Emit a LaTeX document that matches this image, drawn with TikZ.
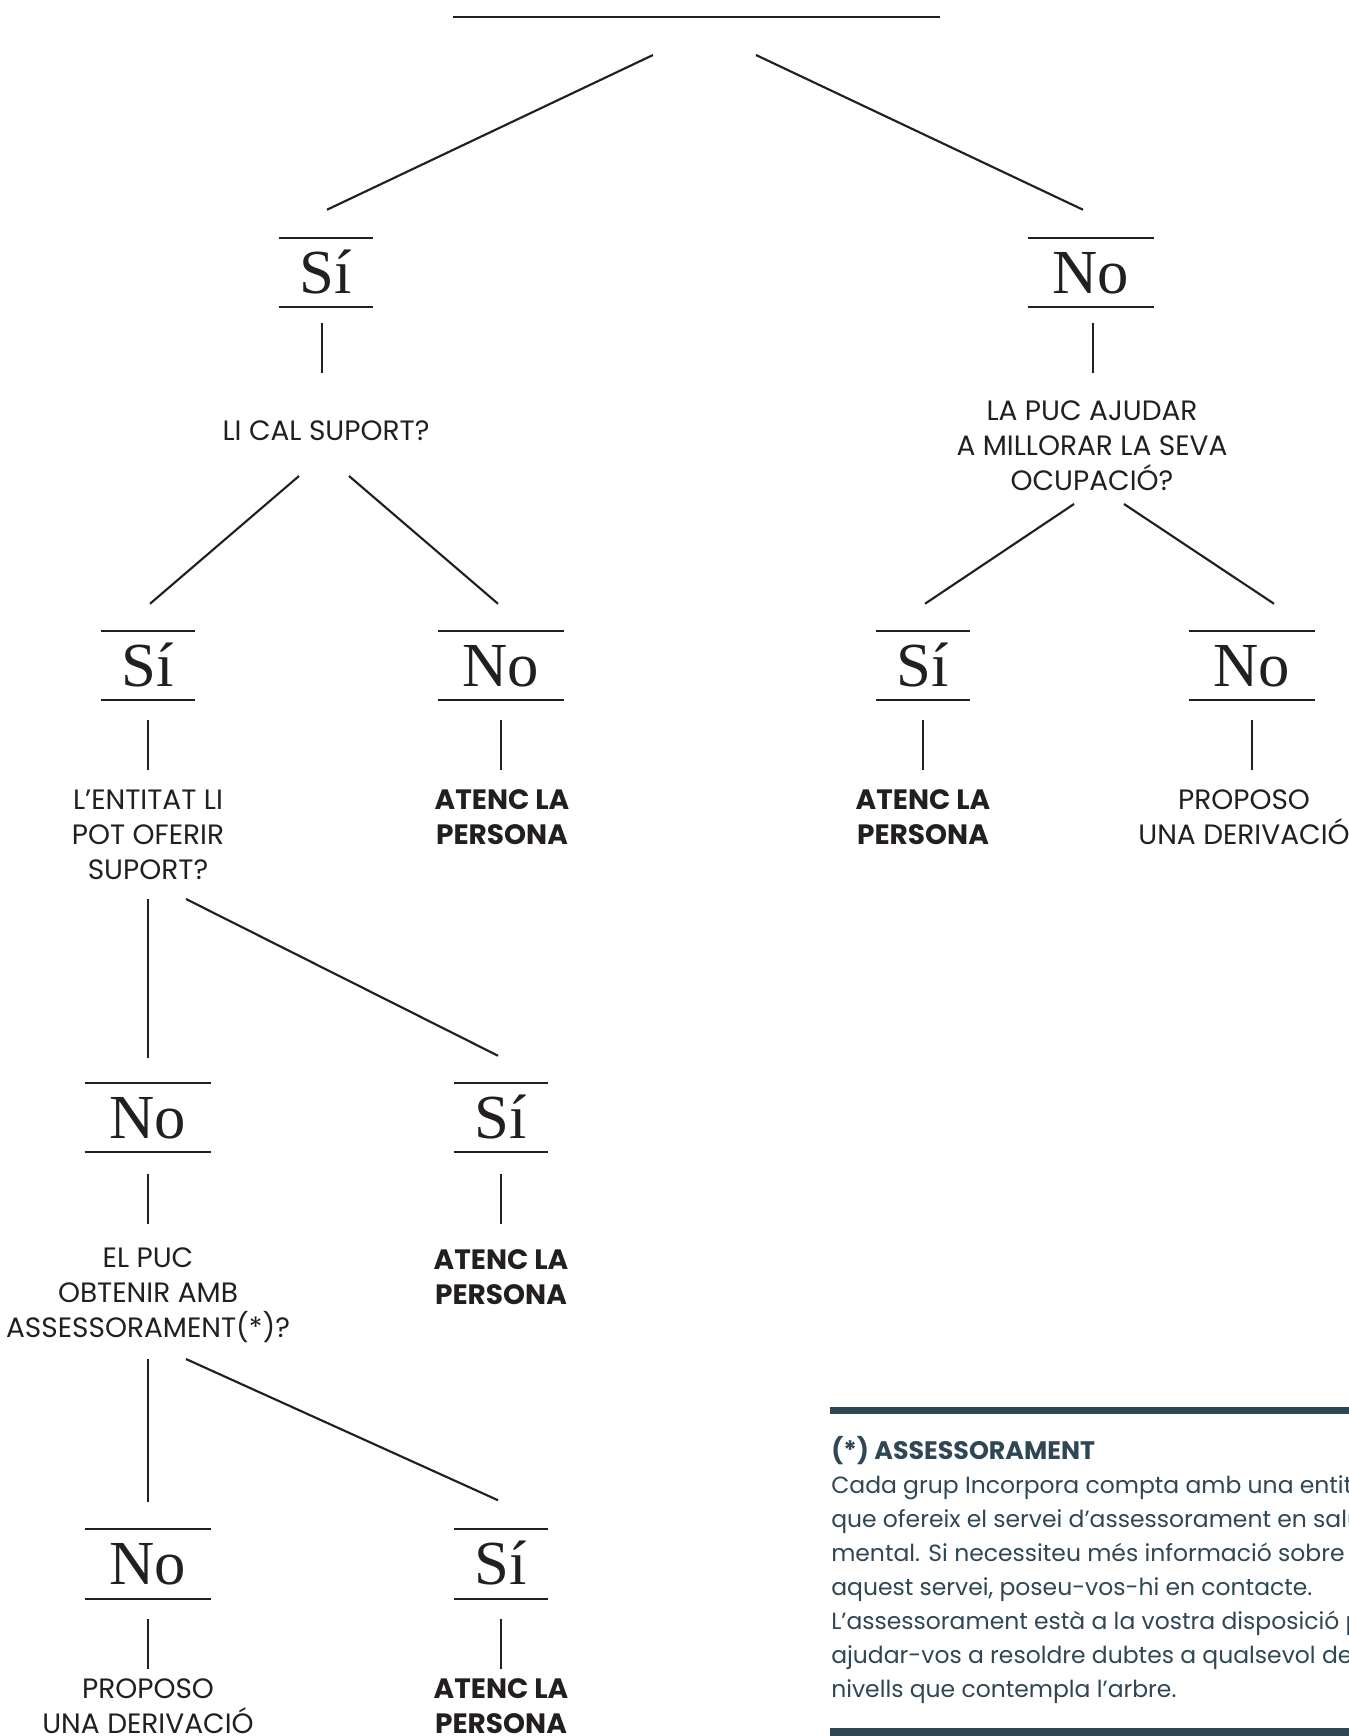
\documentclass[tikz,border=0pt]{standalone}
\usepackage{fontspec}
\setmainfont{Liberation Serif}
\newfontfamily\labfont{Poppins}
\usetikzlibrary{calc}
\definecolor{slate}{HTML}{2F4754}
\definecolor{ink}{HTML}{231F20}
\begin{document}
\begin{tikzpicture}[x=0.75pt,y=-0.75pt,
  conn/.style={draw=ink,line width=1.6pt},
  bar/.style={draw=ink,line width=1.6pt},
  ans/.style={font=\fontsize{47}{50}\selectfont,text=ink,inner sep=0pt,
    minimum height=51.75pt,text height=31pt,text depth=0pt,
    append after command={(\tikzlastnode.north west) edge[bar] (\tikzlastnode.north east)
      (\tikzlastnode.south west) edge[bar] (\tikzlastnode.south east)}},
  si/.style={ans,minimum width=70.5pt},
  no/.style={ans,minimum width=94.5pt},
  q/.style={font=\labfont\fontsize{21}{26.25}\selectfont,text=ink,align=center,inner sep=0pt},
  res/.style={q,font=\labfont\bfseries\fontsize{21}{26.25}\selectfont},
  notebar/.style={draw=slate,line width=5.7pt}
]
\useasboundingbox (0,0) rectangle (1349,1736);

% root line
\coordinate (rootL) at (453,17);
\coordinate (rootR) at (940,17);
\draw[bar] (rootL) -- (rootR);

% level 1
\node[si] (si1) at (326,272.5) {Sí};
\node[no] (no1) at (1091,272.5) {No};
\coordinate (r1) at (653,55);
\coordinate (r2) at (756,55);
\draw[conn] (r1) -- ($(si1.north)+(1,-28)$);
\draw[conn] (r2) -- ($(no1.north)+(-8,-28)$);

\node[q] (q1) at (326,431) {LI CAL SUPORT?};
\node[q] (q2) at (1092,446) {LA PUC AJUDAR\\A MILLORAR LA SEVA\\OCUPACIÓ?};
\draw[conn] ($(si1.south)+(-4,16)$) -- ($(si1.south)+(-4,66)$);
\draw[conn] ($(no1.south)+(2,16)$) -- ($(no1.south)+(2,66)$);

% level 2
\node[si] (si2a) at (148,665.5) {Sí};
\node[no] (no2a) at (501,665.5) {No};
\node[si] (si2b) at (923,665.5) {Sí};
\node[no] (no2b) at (1252,665.5) {No};
\draw[conn] (299,476) -- ($(si2a.north)+(2,-27)$);
\draw[conn] (349,476) -- ($(no2a.north)+(-3,-27)$);
\draw[conn] (1074,504) -- ($(si2b.north)+(2,-27)$);
\draw[conn] (1124,504) -- ($(no2b.north)+(22,-27)$);
\foreach \n in {si2a,no2a,si2b,no2b}
  \draw[conn] ($(\n.south)+(0,20)$) -- ($(\n.south)+(0,70)$);

\node[q] (q3) at (148,835) {L’ENTITAT LI\\POT OFERIR\\SUPORT?};
\node[res] (r2a) at (502,817) {ATENC LA\\PERSONA};
\node[res] (r2b) at (923,817) {ATENC LA\\PERSONA};
\node[q] (r2c) at (1244,817) {PROPOSO\\UNA DERIVACIÓ};

% level 3
\node[no] (no3a) at (148,1117.5) {No};
\node[si] (si3a) at (501,1117.5) {Sí};
\draw[conn] (148,899) -- ($(no3a.north)+(0,-25)$);
\draw[conn] (186,899) -- ($(si3a.north)+(-3,-27)$);
\foreach \n in {no3a,si3a}
  \draw[conn] ($(\n.south)+(0,22)$) -- ($(\n.south)+(0,72)$);

\node[q] (q4) at (148,1295) {EL PUC\\OBTENIR AMB\\ASSESSORAMENT(*)?};
\node[res] (r3a) at (501,1277) {ATENC LA\\PERSONA};

% level 4
\node[no] (no4a) at (148,1564) {No};
\node[si] (si4a) at (501,1564) {Sí};
\draw[conn] (148,1359) -- ($(no4a.north)+(0,-27)$);
\draw[conn] (186,1359) -- ($(si4a.north)+(-3,-29)$);
\foreach \n in {no4a,si4a}
  \draw[conn] ($(\n.south)+(0,20)$) -- ($(\n.south)+(0,70)$);

\node[q] (r4a) at (148,1706) {PROPOSO\\UNA DERIVACIÓ};
\node[res] (r4b) at (501,1706) {ATENC LA\\PERSONA};

% note
\coordinate (nbL1) at (830,1410.5);
\coordinate (nbR1) at (1360,1410.5);
\coordinate (nbL2) at (830,1732);
\coordinate (nbR2) at (1360,1732);
\draw[notebar] (nbL1) -- (nbR1);
\draw[notebar] (nbL2) -- (nbR2);
\node[anchor=north west,inner sep=0pt,align=left,text=slate,
  font=\labfont\fontsize{17.6}{25.5}\selectfont] (note) at (831,1436)
  {\textbf{\fontsize{19}{25.5}\selectfont(*) ASSESSORAMENT}\\
   Cada grup Incorpora compta amb una entitat\\
   que ofereix el servei d’assessorament en salut\\
   mental. Si necessiteu més informació sobre\\
   aquest servei, poseu-vos-hi en contacte.\\
   L’assessorament està a la vostra disposició per\\
   ajudar-vos a resoldre dubtes a qualsevol dels\\
   nivells que contempla l’arbre.};
\end{tikzpicture}
\end{document}
